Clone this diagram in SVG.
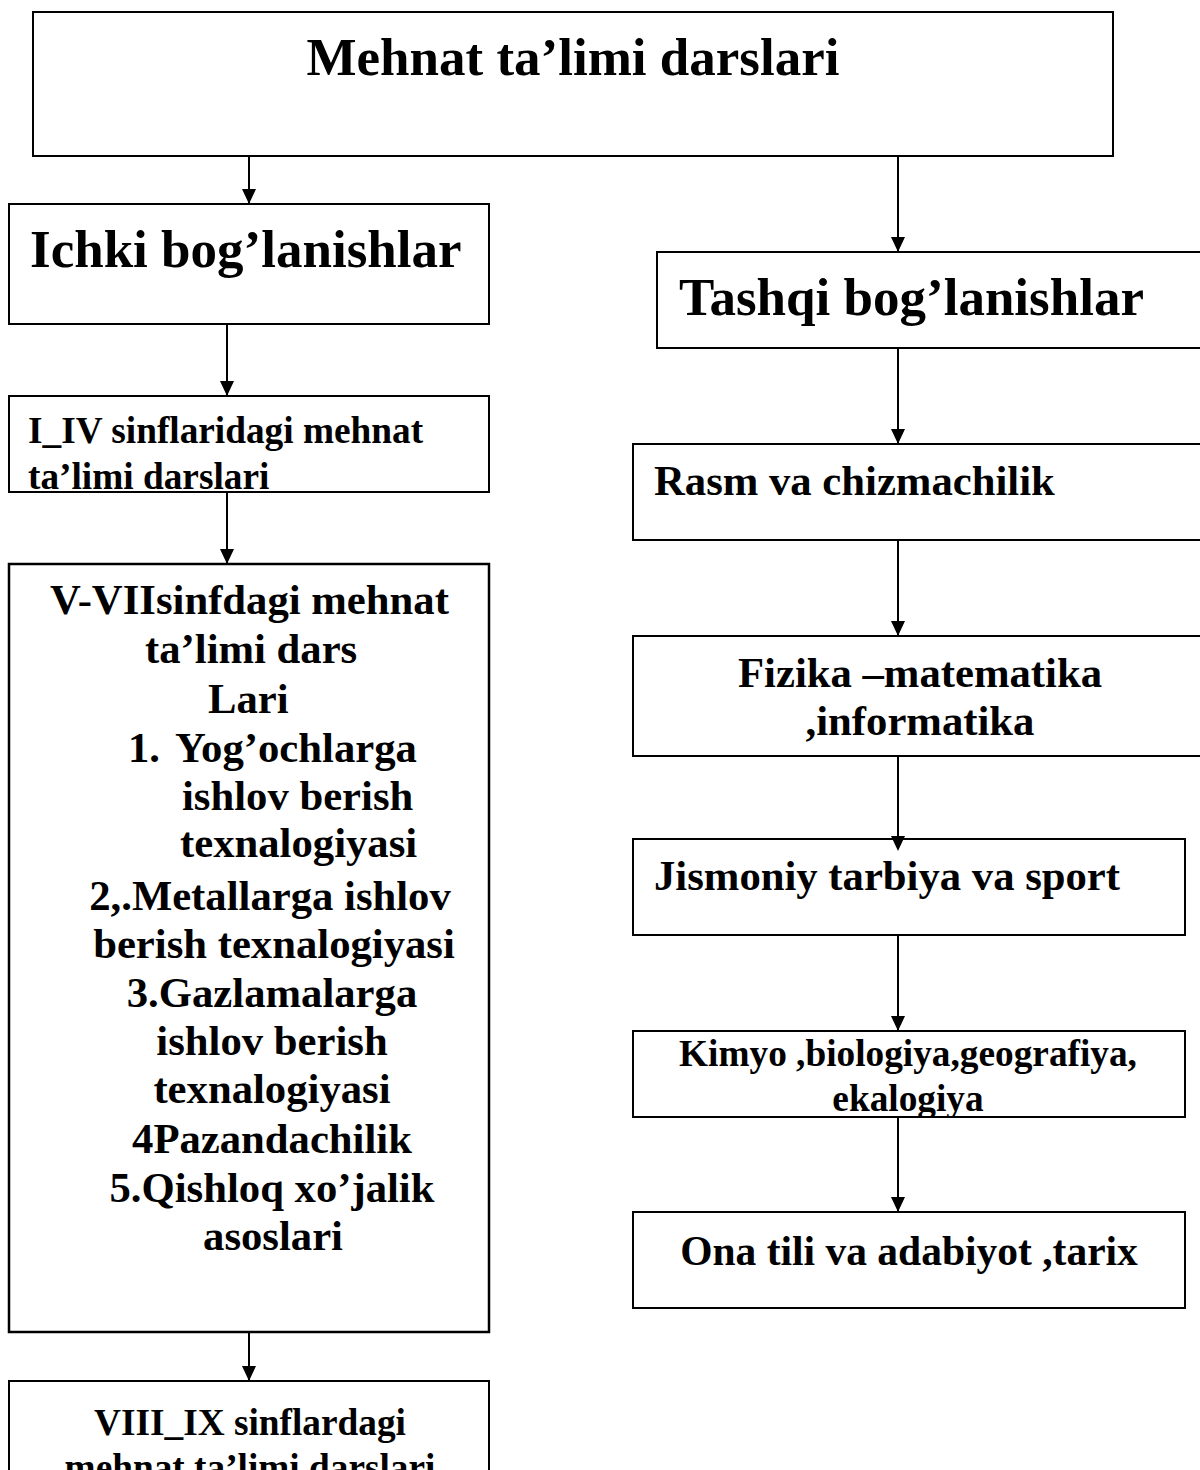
<svg xmlns="http://www.w3.org/2000/svg" width="1200" height="1470" viewBox="0 0 1200 1470">
<style>
rect.box{fill:#fff;stroke:#000;stroke-width:2}
text{font-family:"Liberation Serif","Times New Roman",serif;font-weight:bold;fill:#000}
.t53{font-size:53px}
.t43{font-size:42.7px}
.t37{font-size:37.3px}
.c{text-anchor:middle}
line.conn{stroke:#000;stroke-width:2}
</style>
<defs>
<clipPath id="clipI"><rect x="10" y="397" width="478" height="94"/></clipPath>
<clipPath id="clipK"><rect x="634" y="1032" width="550" height="84"/></clipPath>
</defs>

<g id="connectors">
<line class="conn" x1="249" y1="156" x2="249" y2="204"/>
<path d="M242,189 L256,189 L249,204 Z"/>
<line class="conn" x1="898" y1="156" x2="898" y2="252"/>
<path d="M891,237 L905,237 L898,252 Z"/>
<line class="conn" x1="227" y1="324" x2="227" y2="396"/>
<path d="M220,381 L234,381 L227,396 Z"/>
<line class="conn" x1="227" y1="492" x2="227" y2="564"/>
<path d="M220,549 L234,549 L227,564 Z"/>
<line class="conn" x1="249" y1="1332" x2="249" y2="1381"/>
<path d="M242,1366 L256,1366 L249,1381 Z"/>
<line class="conn" x1="898" y1="348" x2="898" y2="444"/>
<path d="M891,429 L905,429 L898,444 Z"/>
<line class="conn" x1="898" y1="540" x2="898" y2="636"/>
<path d="M891,621 L905,621 L898,636 Z"/>
<line class="conn" x1="898" y1="756" x2="898" y2="836"/>
<line class="conn" x1="898" y1="935" x2="898" y2="1031"/>
<path d="M891,1016 L905,1016 L898,1031 Z"/>
<line class="conn" x1="898" y1="1117" x2="898" y2="1212"/>
<path d="M891,1197 L905,1197 L898,1212 Z"/>
</g>

<g id="node-mehnat">
<rect class="box" x="33" y="12" width="1080" height="144"/>
<text class="t53 c" x="573" y="75">Mehnat ta’limi darslari</text>
</g>

<g id="node-ichki">
<rect class="box" x="9" y="204" width="480" height="120"/>
<text class="t53" x="30" y="267">Ichki bog’lanishlar</text>
</g>

<g id="node-i-iv">
<rect class="box" x="9" y="396" width="480" height="96"/>
<g clip-path="url(#clipI)">
<text class="t37" x="28" y="443">I_IV sinflaridagi mehnat</text>
<text class="t37" x="28" y="489">ta’limi darslari</text>
</g>
</g>

<g id="node-v-vii">
<rect class="box" x="9" y="564" width="480" height="768" style="stroke-width:2.5"/>
<text class="t43" x="50" y="614">V-VIIsinfdagi mehnat</text>
<text class="t43" x="145" y="663">ta’limi dars</text>
<text class="t43" x="208" y="713">Lari</text>
<text class="t43" x="128" y="762">1.</text>
<text class="t43" x="175" y="762">Yog’ochlarga</text>
<text class="t43" x="182" y="810">ishlov berish</text>
<text class="t43" x="180" y="857">texnalogiyasi</text>
<text class="t43 c" x="270" y="910">2,.Metallarga ishlov</text>
<text class="t43 c" x="274" y="958">berish texnalogiyasi</text>
<text class="t43 c" x="272" y="1007">3.Gazlamalarga</text>
<text class="t43 c" x="272" y="1055">ishlov berish</text>
<text class="t43 c" x="272" y="1103">texnalogiyasi</text>
<text class="t43 c" x="272" y="1153">4Pazandachilik</text>
<text class="t43 c" x="272" y="1202">5.Qishloq xo’jalik</text>
<text class="t43 c" x="273" y="1250">asoslari</text>
</g>

<g id="node-viii-ix">
<rect class="box" x="9" y="1381" width="480" height="100"/>
<text class="t37 c" x="250" y="1435">VIII_IX sinflardagi</text>
<text class="t37 c" x="250" y="1480">mehnat ta’limi darslari</text>
</g>

<g id="node-tashqi">
<rect class="box" x="657" y="252" width="560" height="96"/>
<text class="t53" x="679" y="315">Tashqi bog’lanishlar</text>
</g>

<g id="node-rasm">
<rect class="box" x="633" y="444" width="584" height="96"/>
<text class="t43" x="654" y="495">Rasm va chizmachilik</text>
</g>

<g id="node-fizika">
<rect class="box" x="633" y="636" width="584" height="120"/>
<text class="t43 c" x="920" y="687">Fizika –matematika</text>
<text class="t43 c" x="920" y="735">,informatika</text>
</g>

<g id="node-jismoniy">
<rect class="box" x="633" y="839" width="552" height="96"/>
<text class="t43" x="654" y="890">Jismoniy tarbiya va sport</text>
</g>
<path d="M891,836 L905,836 L898,851 Z"/>

<g id="node-kimyo">
<rect class="box" x="633" y="1031" width="552" height="86"/>
<g clip-path="url(#clipK)">
<text class="t37 c" x="908" y="1066">Kimyo ,biologiya,geografiya,</text>
<text class="t37 c" x="908" y="1111">ekalogiya</text>
</g>
</g>

<g id="node-ona">
<rect class="box" x="633" y="1212" width="552" height="96"/>
<text class="c" style="font-size:41.5px" x="909" y="1265">Ona tili va adabiyot ,tarix</text>
</g>
</svg>
